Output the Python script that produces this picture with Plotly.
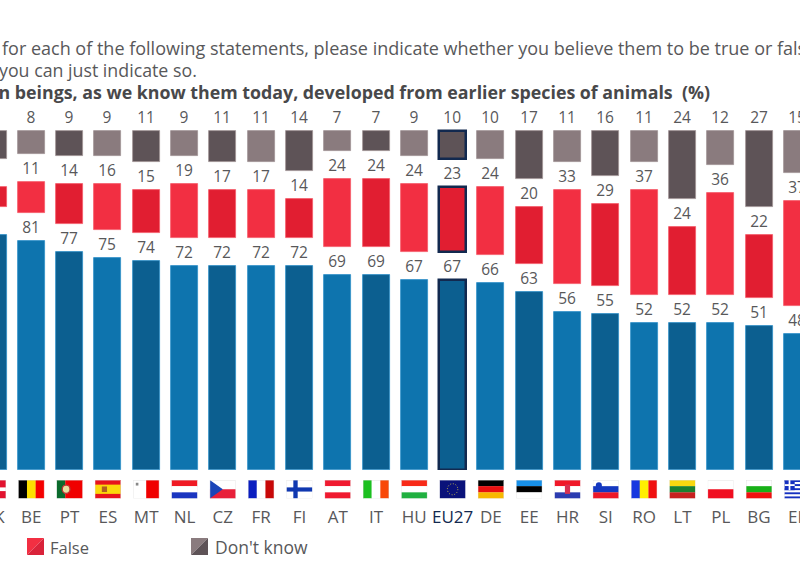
import base64
import plotly.graph_objects as go

countries = ["DK","BE","PT","ES","MT","NL","CZ","FR","FI","AT","IT","HU","EU27","DE","EE","HR","SI","RO","LT","PL","BG","EL"]
true_vals = [83,81,77,75,74,72,72,72,72,69,69,67,67,66,63,56,55,52,52,52,51,48]
false_vals = [7,11,14,16,15,19,17,17,14,24,24,24,23,24,20,33,29,37,24,36,22,37]
dk_vals = [10,8,9,9,11,9,11,11,14,7,7,9,10,10,17,11,16,11,24,12,27,15]

GAP = 9.9
PX = 2.83
W, H = 800, 577
BASE_Y = 470
STEP = 38.3
X0 = -7
TXT = "#58585a"
NAVY = "#12294f"

def alt(a, b):
    return [a if i % 2 else b for i in range(len(countries))]

def edge(c, w=1):
    cols = [NAVY if k == "EU27" else c for k in countries]
    wid = [2.5 if k == "EU27" else w for k in countries]
    return dict(color=cols, width=wid)

def stripes(cols, vertical=False):
    n = len(cols)
    if vertical:
        return "".join(f'<rect x="{i*30/n}" y="0" width="{30/n+.2}" height="20" fill="{c}"/>' for i, c in enumerate(cols))
    return "".join(f'<rect x="0" y="{i*20/n}" width="30" height="{20/n+.2}" fill="{c}"/>' for i, c in enumerate(cols))

flag_svg = {
    "DK": '<rect width="30" height="20" fill="#e2132f"/><rect x="9" width="4" height="20" fill="#fff"/><rect y="8" width="30" height="4" fill="#fff"/>',
    "BE": stripes(["#000","#fde000","#f40000"], True),
    "PT": stripes(["#0a6a2c","#f00000","#f00000"], True) + '<circle cx="11" cy="10" r="4.5" fill="#e8e0a0" stroke="#b33" stroke-width="1.5"/>',
    "ES": '<rect width="30" height="20" fill="#e8131c"/><rect y="5" width="30" height="10" fill="#fbd80b"/><rect x="8" y="7" width="6" height="6" fill="#b06020"/>',
    "MT": stripes(["#fff","#f00000"], True) + '<rect x="3" y="3" width="3" height="3" fill="#888"/>',
    "NL": stripes(["#f01a24","#fff","#1a35c0"]),
    "CZ": stripes(["#fff","#e8203a"]) + '<path d="M0 0L15 10L0 20Z" fill="#1a45b8"/>',
    "FR": stripes(["#0a1ec0","#fff","#c80808"], True),
    "FI": '<rect width="30" height="20" fill="#fff"/><rect x="8" width="5" height="20" fill="#1038b0"/><rect y="8" width="30" height="4.5" fill="#1038b0"/>',
    "AT": stripes(["#f01a30","#fff","#f01a30"]),
    "IT": stripes(["#1cc020","#fff","#f84808"], True),
    "HU": stripes(["#f82a18","#fff","#20b040"]),
    "EU27": '<rect width="30" height="20" fill="#0a127a"/><circle cx="15" cy="10" r="6" fill="none" stroke="#e8d840" stroke-width="1" stroke-dasharray="1 2.1"/>',
    "DE": stripes(["#000","#e81010","#f8b800"]),
    "EE": stripes(["#1890e8","#000","#fff"]),
    "HR": stripes(["#f01828","#fff","#2c3cb0"]) + '<rect x="12" y="5" width="6" height="10" fill="#d83050"/>',
    "SI": stripes(["#fff","#1438c0","#ee1828"]) + '<circle cx="7" cy="6" r="3.5" fill="#1438c0"/>',
    "RO": stripes(["#1838e0","#ffee00","#f01010"], True),
    "LT": stripes(["#f8d810","#1c8030","#c82020"]),
    "PL": stripes(["#fff","#f00e20"]),
    "BG": stripes(["#fff","#18b018","#f01010"]),
    "EL": stripes(["#1530c0","#fff","#1530c0","#fff","#1530c0","#fff","#1530c0","#fff","#1530c0"]) + '<rect width="12" height="11" fill="#1530c0"/><rect x="5" width="2" height="11" fill="#fff"/><rect y="4.5" width="12" height="2" fill="#fff"/>',
}

def uri(body):
    frame = '<rect x=".2" y=".2" width="29.6" height="19.6" fill="none" stroke="#ddd" stroke-width=".5"/>'
    svg = f'<svg xmlns="http://www.w3.org/2000/svg" viewBox="0 0 30 20" preserveAspectRatio="none">{body}{frame}</svg>'
    return "data:image/svg+xml;base64," + base64.b64encode(svg.encode()).decode()

x = list(range(len(countries)))
false_base = [t + GAP for t in true_vals]
dk_base = [t + f + 2 * GAP for t, f in zip(true_vals, false_vals)]

fig = go.Figure()
common = dict(x=x, width=27 / STEP, textposition="outside", cliponaxis=False,
              textfont=dict(size=15.5, color=TXT, family="Open Sans"), textangle=0,
              hoverinfo="skip", showlegend=False)
fig.add_bar(y=true_vals, name="True", text=true_vals,
            marker=dict(color=alt("#0e74ae", "#0c5f90"), line=edge("#2f8fc8", 0.8)), **common)
fig.add_bar(y=false_vals, base=false_base, name="False", text=false_vals,
            marker=dict(color=alt("#f22f42", "#e11e31"), line=edge("#f55a68", 0.8)), **common)
fig.add_bar(y=dk_vals, base=dk_base, name="Don't know", text=dk_vals,
            marker=dict(color=alt("#8a7b7e", "#5e5357"), line=edge("#a09396", 0.8)), **common)

# The two outermost labels fall at the page edges, where the axis drops them;
# they are added as annotations below at the same position.
inner = x[1:-1]
ticktext = [f'<span style="color:{NAVY}">{c}</span>' if c == "EU27" else c for c in countries[1:-1]]
plot_h = BASE_Y

images = [dict(source=uri(flag_svg[c]), xref="x", yref="paper", x=i, y=-(480 - BASE_Y) / plot_h,
               sizex=26 / STEP, sizey=18.5 / plot_h, xanchor="center", yanchor="top",
               sizing="stretch", layer="above") for i, c in enumerate(countries)]

def note(text, px, py, size=17.8, anchor="left", color=TXT):
    return dict(text=text, xref="paper", yref="paper", x=px / W, y=(BASE_Y - py) / plot_h,
                xanchor=anchor, yanchor="middle", showarrow=False,
                font=dict(size=size, color=color, family="Open Sans"))

annotations = [
    note("for each of the following statements, please indicate whether you believe them to be true or false", 0, 48, 18),
    note("you can just indicate so.", -3, 70),
    note("<b>Human beings, as we know them today, developed from earlier species of animals  (%)</b>", 712, 92, 17.8, "right", "#48484a"),
    note("False", 48, 547, 16.5),
    note("Don't know", 213, 547, 17.5),
    note(countries[0], X0, 516, 17, "center"),
    note(countries[-1], X0 + STEP * x[-1], 516, 17, "center"),
]

def tri(x0, y0, s, c1, c2):
    return [
        dict(type="path", xref="paper", yref="paper", line_width=0, fillcolor=c1,
             path=f"M{x0/W},{(BASE_Y-y0)/plot_h}L{(x0+s)/W},{(BASE_Y-y0)/plot_h}L{x0/W},{(BASE_Y-y0-s)/plot_h}Z"),
        dict(type="path", xref="paper", yref="paper", line_width=0, fillcolor=c2,
             path=f"M{(x0+s)/W},{(BASE_Y-y0)/plot_h}L{(x0+s)/W},{(BASE_Y-y0-s)/plot_h}L{x0/W},{(BASE_Y-y0-s)/plot_h}Z"),
    ]

shapes = tri(27, 538, 17, "#f22f42", "#d9233a") + tri(191, 538, 17, "#8a7b7e", "#5e5357")

fig.update_layout(
    width=W, height=H, autosize=False, barmode="overlay", bargap=0,
    paper_bgcolor="white", plot_bgcolor="white",
    margin=dict(l=0, r=0, t=0, b=H - BASE_Y, pad=0),
    xaxis=dict(range=[-X0 / STEP, (W - X0) / STEP], tickmode="array", tickvals=inner, ticktext=ticktext,
               showgrid=False, zeroline=False, showline=False, ticks="outside", ticklen=32,
               tickcolor="rgba(0,0,0,0)", tickfont=dict(size=17, color=TXT, family="Open Sans")),
    yaxis=dict(range=[0, BASE_Y / PX], visible=False, fixedrange=True),
    images=images, annotations=annotations, shapes=shapes,
)
fig.write_html("out.html", config={"displayModeBar": False},
               post_script="document.body.style.margin='0';document.documentElement.style.overflow='hidden';")
